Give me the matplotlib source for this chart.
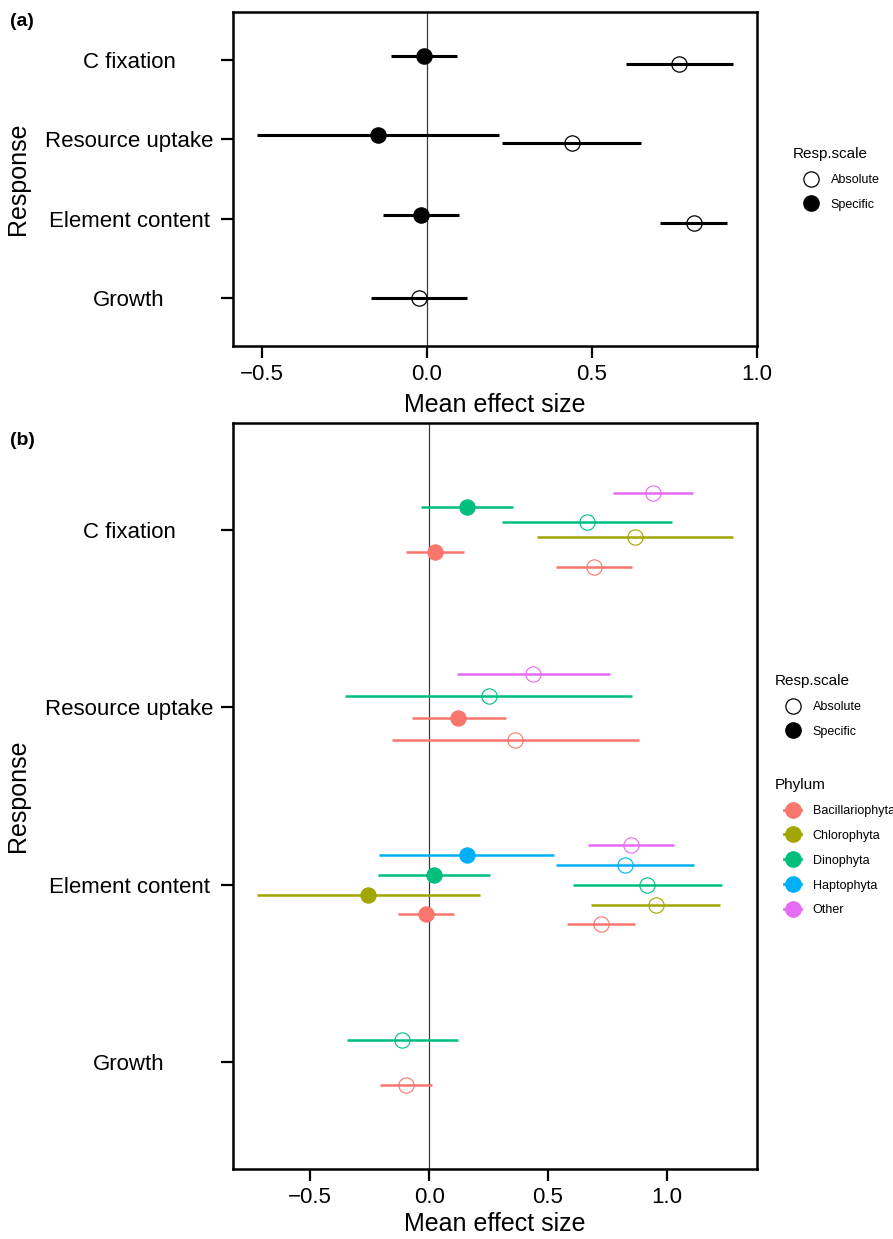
import numpy as np
import matplotlib.pyplot as plt
from matplotlib.lines import Line2D
from matplotlib.legend_handler import HandlerLine2D

plt.rcParams['font.family'] = ['Liberation Sans', 'DejaVu Sans']

# categories, bottom to top
responses = ["Growth", "Element content", "Resource uptake", "C fixation"]
scales = ["Absolute", "Specific"]
phyla = ["Bacillariophyta", "Chlorophyta", "Dinophyta", "Haptophyta", "Other"]
phylum_colors = ["#F8766D", "#A3A500", "#00BF7D", "#00B0F6", "#E76BF3"]

# (a) overall effect sizes
a_response = ["C fixation", "C fixation", "Resource uptake", "Resource uptake",
              "Element content", "Element content", "Growth"]
a_scale = ["Specific", "Absolute", "Specific", "Absolute", "Specific", "Absolute", "Absolute"]
a_mean = [-0.008, 0.766, -0.148, 0.440, -0.019, 0.809, -0.024]
a_lo = [-0.109, 0.604, -0.516, 0.229, -0.132, 0.708, -0.169]
a_hi = [0.092, 0.929, 0.219, 0.648, 0.097, 0.909, 0.122]

# (b) effect sizes by phylum
b_response = ["C fixation"] * 6 + ["Resource uptake"] * 4 + ["Element content"] * 9 + ["Growth"] * 2
b_phylum = ["Bacillariophyta", "Bacillariophyta", "Chlorophyta", "Dinophyta", "Dinophyta", "Other",
            "Bacillariophyta", "Bacillariophyta", "Dinophyta", "Other",
            "Bacillariophyta", "Bacillariophyta", "Chlorophyta", "Chlorophyta", "Dinophyta",
            "Dinophyta", "Haptophyta", "Haptophyta", "Other",
            "Bacillariophyta", "Dinophyta"]
b_scale = ["Absolute", "Specific", "Absolute", "Absolute", "Specific", "Absolute",
           "Absolute", "Specific", "Absolute", "Absolute",
           "Absolute", "Specific", "Absolute", "Specific", "Absolute",
           "Specific", "Absolute", "Specific", "Absolute",
           "Absolute", "Absolute"]
b_mean = [0.692, 0.025, 0.867, 0.663, 0.158, 0.941,
          0.363, 0.123, 0.250, 0.438,
          0.723, -0.013, 0.954, -0.256, 0.918, 0.022, 0.824, 0.158, 0.850,
          -0.097, -0.114]
b_lo = [0.532, -0.097, 0.455, 0.308, -0.036, 0.773,
        -0.158, -0.072, -0.353, 0.116,
        0.578, -0.130, 0.679, -0.725, 0.604, -0.217, 0.532, -0.212, 0.669,
        -0.205, -0.347]
b_hi = [0.854, 0.146, 1.279, 1.020, 0.351, 1.110,
        0.883, 0.322, 0.854, 0.762,
        0.868, 0.105, 1.223, 0.214, 1.233, 0.257, 1.114, 0.527, 1.030,
        0.012, 0.120]


def dodge(resp, keys, width):
    # ggplot-style position_dodge along the categorical axis
    pos = np.zeros(len(resp))
    for r in set(resp):
        idx = sorted([i for i in range(len(resp)) if resp[i] == r], key=lambda i: keys[i])
        n = len(idx)
        for k, i in enumerate(idx):
            pos[i] = responses.index(r) + 1 + (k - (n - 1) / 2) * width / n
    return pos


class ShortLine(HandlerLine2D):
    # pointrange-like key: marker with a short line through it
    def get_xdata(self, legend, xdescent, ydescent, width, height, fontsize):
        c = -xdescent + 0.5 * width
        h = 0.65 * fontsize
        return np.array([c - h, c + h]), np.array([c])


def style_axes(ax, lo, hi, labelpad):
    span = max(hi) - min(lo)
    ax.set_xlim(min(lo) - 0.05 * span, max(hi) + 0.05 * span)
    ax.set_ylim(0.4, 4.6)
    ax.set_yticks(range(1, 5))
    ax.set_yticklabels(responses, ha='center')
    ax.set_xticks([-0.5, 0.0, 0.5, 1.0])
    ax.axvline(0, color='#3a3a3a', lw=0.9, zorder=0.5)
    for s in ax.spines.values():
        s.set_linewidth(1.8)
    ax.tick_params(labelsize=16, length=8.6, width=1.6, pad=4.4, colors='black')
    # centred y tick labels, centre about 104 px left of the axis
    ax.tick_params(axis='y', pad=(104 - 12) / 1.389)
    ax.set_xlabel("Mean effect size", fontsize=18, labelpad=labelpad)
    ax.set_ylabel("Response", fontsize=18)
    ax.yaxis.set_label_coords(-0.387, 0.5)


fig = plt.figure(figsize=(8.93, 12.39), dpi=100)
ax_a = fig.add_axes([233 / 893, 1 - 346 / 1239, 524 / 893, 334 / 1239])
ax_b = fig.add_axes([233 / 893, 1 - 1169 / 1239, 524 / 893, 746 / 1239])

# panel (a)
ya = dodge(a_response, [scales.index(s) for s in a_scale], 0.2)
for y, m, lo, hi, sc in zip(ya, a_mean, a_lo, a_hi, a_scale):
    ax_a.hlines(y, lo, hi, color='black', lw=2.2, zorder=2)
    ax_a.plot(m, y, 'o', ms=11, mec='black', mew=0.9,
              mfc='black' if sc == "Specific" else 'none', zorder=3)
style_axes(ax_a, a_lo, a_hi, 5.5)

# panel (b)
yb = dodge(b_response, [(phyla.index(p), scales.index(s)) for p, s in zip(b_phylum, b_scale)], 0.5)
for y, m, lo, hi, ph, sc in zip(yb, b_mean, b_lo, b_hi, b_phylum, b_scale):
    c = phylum_colors[phyla.index(ph)]
    ax_b.hlines(y, lo, hi, color=c, lw=1.8, zorder=2)
    ax_b.plot(m, y, 'o', ms=11, mec=c, mew=0.8,
              mfc=c if sc == "Specific" else 'none', zorder=3)
style_axes(ax_b, b_lo, b_hi, 2.5)

# legends
scale_handles = [Line2D([], [], ls='none', marker='o', ms=11, mfc='none', mec='black', mew=0.9),
                 Line2D([], [], ls='none', marker='o', ms=11, color='black')]
leg_kw = dict(loc='upper left', bbox_transform=fig.transFigure, frameon=False, fontsize=9,
              title_fontsize=11, handlelength=2.8, handletextpad=0.2, labelspacing=1.03,
              borderpad=0, borderaxespad=0, alignment='left')

ax_a.legend(scale_handles, scales, title="Resp.scale",
            bbox_to_anchor=(793 / 893, 1 - 147 / 1239), **leg_kw)

leg_scale_b = ax_b.legend(scale_handles, scales, title="Resp.scale",
                          bbox_to_anchor=(775 / 893, 1 - 674 / 1239), **leg_kw)
ax_b.add_artist(leg_scale_b)
phylum_handles = [Line2D([], [], color=c, lw=2, marker='o', ms=11) for c in phylum_colors]
ax_b.legend(phylum_handles, phyla, title="Phylum", handler_map={Line2D: ShortLine()},
            bbox_to_anchor=(775 / 893, 1 - 778 / 1239), **leg_kw)

fig.text(10 / 893, 1 - 21 / 1239, "(a)", fontsize=14, fontweight='bold', va='center')
fig.text(10 / 893, 1 - 441 / 1239, "(b)", fontsize=14, fontweight='bold', va='center')

fig.savefig("out.png", dpi=100)
